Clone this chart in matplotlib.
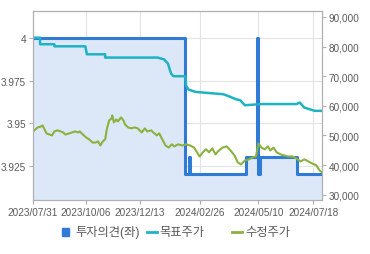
import matplotlib.pyplot as plt
import matplotlib.dates as mdates
import pandas as pd

plt.rcParams['font.family'] = ['Liberation Sans', 'Noto Sans CJK KR', 'DejaVu Sans']

# 투자의견 (left axis)
opinion_dates = ['2023-07-31', '2024-02-08', '2024-02-12', '2024-02-14', '2024-04-25',
                 '2024-05-08', '2024-05-10', '2024-05-12', '2024-06-28', '2024-07-29']
opinion_vals = [4, 3.92, 3.93, 3.92, 3.93, 4, 3.92, 3.93, 3.92, 3.92]

# 목표주가 (right axis)
target_dates = ['2023-07-31', '2023-08-09', '2023-08-09', '2023-08-27', '2023-08-27',
                '2023-10-05', '2023-10-07', '2023-10-30', '2023-10-30', '2024-01-04',
                '2024-01-12', '2024-01-17', '2024-01-21', '2024-01-24', '2024-02-08',
                '2024-02-09', '2024-02-12', '2024-02-21', '2024-03-27', '2024-04-03',
                '2024-04-12', '2024-04-17', '2024-04-23', '2024-05-15', '2024-06-27',
                '2024-07-01', '2024-07-07', '2024-07-20', '2024-07-29']
target_vals = [83000, 83000, 80800, 80800, 80100,
               80100, 77400, 77400, 76300, 76300,
               75700, 74300, 70900, 70000, 70000,
               66700, 65500, 64700, 63900, 63200,
               62200, 61900, 60200, 60600, 60600,
               61100, 59400, 58300, 58300]

# 수정주가 (right axis)
price_dates = ['2023-07-31', '2023-08-03', '2023-08-06', '2023-08-10', '2023-08-12',
               '2023-08-14', '2023-08-17', '2023-08-21', '2023-08-24', '2023-08-27',
               '2023-08-31', '2023-09-04', '2023-09-07', '2023-09-10', '2023-09-15',
               '2023-09-22', '2023-09-26', '2023-09-28', '2023-10-02', '2023-10-06',
               '2023-10-10', '2023-10-14', '2023-10-18', '2023-10-21', '2023-10-24',
               '2023-10-27', '2023-10-30', '2023-11-01', '2023-11-04', '2023-11-07',
               '2023-11-08', '2023-11-10', '2023-11-13', '2023-11-15', '2023-11-19',
               '2023-11-22', '2023-11-24', '2023-11-28', '2023-12-02', '2023-12-06',
               '2023-12-10', '2023-12-15', '2023-12-19', '2023-12-22', '2023-12-27',
               '2023-12-31', '2024-01-03', '2024-01-06', '2024-01-10', '2024-01-14',
               '2024-01-18', '2024-01-22', '2024-01-25', '2024-01-30', '2024-02-04',
               '2024-02-09', '2024-02-14', '2024-02-19', '2024-02-22', '2024-02-26',
               '2024-03-01', '2024-03-05', '2024-03-09', '2024-03-13', '2024-03-17',
               '2024-03-20', '2024-03-26', '2024-03-31', '2024-04-05', '2024-04-10',
               '2024-04-14', '2024-04-18', '2024-04-23', '2024-04-28', '2024-05-03',
               '2024-05-07', '2024-05-10', '2024-05-14', '2024-05-18', '2024-05-22',
               '2024-05-25', '2024-05-29', '2024-06-02', '2024-06-07', '2024-06-12',
               '2024-06-17', '2024-06-22', '2024-06-27', '2024-07-02', '2024-07-07',
               '2024-07-12', '2024-07-17', '2024-07-22', '2024-07-26', '2024-07-29']
price_vals = [51350, 52000, 52700, 53000, 53400,
              52400, 50700, 50300, 50000, 51350,
              51700, 51350, 51000, 50300, 50700,
              51350, 51000, 51350, 50300, 49300,
              48650, 47600, 47600, 48000, 46600,
              48000, 48650, 52000, 55070, 55740,
              56760, 54400, 55400, 54700, 56100,
              55070, 53700, 52700, 52400, 52700,
              52400, 51000, 52400, 51350, 51700,
              50700, 50000, 50700, 48650, 46600,
              45900, 47000, 46300, 47000, 46600,
              47000, 46600, 45900, 44600, 42900,
              44300, 45300, 44300, 45600, 43600,
              44600, 45900, 46300, 44900, 43200,
              40900, 40200, 41550, 41900, 42600,
              42900, 47300, 45900, 45300, 46300,
              44900, 45900, 44300, 43600, 43200,
              42900, 42900, 42200, 41200, 41900,
              41200, 40500, 39900, 38200, 37500]

x_ticks = ['2023-07-31', '2023-10-06', '2023-12-13', '2024-02-26', '2024-05-10', '2024-07-18']
left_ticks = [3.925, 3.95, 3.975, 4]
right_ticks = [30000, 40000, 50000, 60000, 70000, 80000, 90000]

gray = '#5a5a5a'
fig = plt.figure(figsize=(3.7, 2.55), dpi=100)
ax = fig.add_axes([0.089, 0.212, 0.781, 0.741])
ax2 = ax.twinx()

od = pd.to_datetime(opinion_dates)
ax.fill_between(od, opinion_vals, 3.8, step='post', color='#dce7f8', lw=0)
ax.step(od, opinion_vals, where='post', color='#2f7bd6', lw=2.2, zorder=3)
ax.set_ylim(3.905, 4.0158)
ax.set_yticks(left_ticks)
ax.set_yticklabels(['3.925', '3.95', '3.975', '4'])
ax.set_xlim(pd.Timestamp('2023-07-31'), pd.Timestamp('2024-07-29'))
ax.set_xticks(pd.to_datetime(x_ticks))
ax.xaxis.set_major_formatter(mdates.DateFormatter('%Y/%m/%d'))
ax.grid(True, color='#e3e3e3', lw=0.8)
ax.set_axisbelow(True)

ax2.plot(pd.to_datetime(target_dates), target_vals, color='#1eb3c3', lw=1.8)
ax2.plot(pd.to_datetime(price_dates), price_vals, color='#8bb23f', lw=1.5)
ax2.set_ylim(28210, 92030)
ax2.set_yticks(right_ticks)
ax2.set_yticklabels([f'{v:,}' for v in right_ticks])

for a in (ax, ax2):
    for s in a.spines.values():
        s.set_color('#b0b0b0')
    a.tick_params(colors='#b0b0b0', labelcolor=gray, labelsize=7.2, length=3, width=0.8, pad=2)

# legend
fig.patches.append(plt.Rectangle((0.168, 0.072), 0.019, 0.03, color='#2f7bd6',
                                 transform=fig.transFigure, figure=fig))
fig.text(0.203, 0.087, '투자의견(좌)', fontsize=8.8, color=gray, va='center')
fig.add_artist(plt.Line2D([0.397, 0.424], [0.087, 0.087], color='#1eb3c3', lw=2,
                          transform=fig.transFigure))
fig.text(0.432, 0.087, '목표주가', fontsize=8.8, color=gray, va='center')
fig.add_artist(plt.Line2D([0.627, 0.654], [0.087, 0.087], color='#8bb23f', lw=2,
                          transform=fig.transFigure))
fig.text(0.662, 0.087, '수정주가', fontsize=8.8, color=gray, va='center')

fig.savefig('out.png', dpi=100)
